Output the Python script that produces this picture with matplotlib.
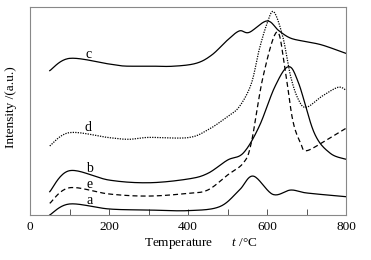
import numpy as np
import matplotlib
matplotlib.use("Agg")
from matplotlib import pyplot
from matplotlib.ticker import MultipleLocator, NullLocator

# values (temperature in deg C, intensity in arbitrary units)
temp_a = [50, 100, 200, 300, 400, 480, 530, 565, 615, 660, 700, 800]
int_a = [0.0, 5.3, 2.9, 2.4, 2.1, 4.0, 12.0, 18.7, 9.9, 12.0, 10.6, 8.8]

temp_e = [50, 100, 200, 300, 400, 450, 500, 540, 560, 590, 625, 645, 665, 685, 700, 750, 800]
int_e = [5.6, 13.1, 10.1, 9.1, 10.4, 12.0, 19.2, 25.0, 34.5, 66.5, 88.0, 71.0, 45.7, 34.6, 30.9, 36.0, 41.7]

temp_b = [50, 100, 200, 300, 400, 450, 500, 540, 580, 620, 654, 680, 720, 760, 800]
int_b = [11.2, 21.3, 16.8, 15.5, 17.3, 20.0, 26.4, 29.8, 42.5, 61.7, 71.3, 63.4, 39.3, 29.7, 26.8]

temp_d = [50, 100, 200, 250, 300, 400, 450, 500, 530, 560, 580, 600, 617, 640, 660, 680, 700, 740, 780, 800]
int_d = [33.2, 39.6, 37.2, 36.4, 37.3, 37.2, 40.9, 47.3, 52.1, 63.0, 79.3, 92.0, 97.7, 85.7, 66.5, 55.3, 51.8, 57.2, 61.4, 60.0]

temp_c = [50, 100, 200, 240, 300, 360, 420, 460, 500, 530, 555, 600, 630, 660, 700, 740, 800]
int_c = [69.4, 75.3, 72.6, 71.6, 71.6, 71.5, 72.9, 76.9, 84.1, 88.5, 87.8, 93.3, 88.6, 85.0, 83.3, 81.7, 77.7]

labels = ["a", "e", "b", "d", "c"]
label_pos = [(152, 7.0), (150, 14.6), (150, 22.3), (147, 42.0), (147, 77.4)]

xticks_major = [0, 200, 400, 600, 800]


def smooth(xs, ys, n=20):
	"""Catmull-Rom curve through the read points, only for drawing."""
	pts = np.column_stack([xs, ys]).astype(float)
	pts = np.vstack([pts[0], pts, pts[-1]])
	out = []
	for i in range(1, len(pts) - 2):
		p0, p1, p2, p3 = pts[i - 1], pts[i], pts[i + 1], pts[i + 2]
		t = np.linspace(0, 1, n, endpoint=False)[:, None]
		seg = 0.5 * ((2 * p1) + (-p0 + p2) * t + (2 * p0 - 5 * p1 + 4 * p2 - p3) * t ** 2
			+ (-p0 + 3 * p1 - 3 * p2 + p3) * t ** 3)
		out.append(seg)
	out.append(pts[-2][None, :])
	out = np.vstack(out)
	return out[:, 0], out[:, 1]


pyplot.rcParams["font.family"] = ["Liberation Serif", "DejaVu Serif"]
pyplot.rcParams["mathtext.fontset"] = "custom"
pyplot.rcParams["mathtext.it"] = "Liberation Serif:italic"
pyplot.rcParams["mathtext.rm"] = "Liberation Serif"

figure = pyplot.figure(figsize=(3.71, 2.60), dpi=100)
axis = figure.add_axes([30 / 371, 45 / 260, 316 / 371, 208 / 260])

series = [
	(temp_a, int_a, "-"),
	(temp_e, int_e, (0, (4, 2.5))),
	(temp_b, int_b, "-"),
	(temp_d, int_d, (0, (1.0, 1.0))),
	(temp_c, int_c, "-"),
]

for xs, ys, style in series:
	sx, sy = smooth(xs, ys)
	axis.plot(sx, sy, color="black", linestyle=style, linewidth=0.9)

for text, (tx, ty) in zip(labels, label_pos):
	axis.text(tx, ty, text, fontsize=10, ha="center", va="center")

axis.set_xlim(0, 800)
axis.set_ylim(0, 100)
axis.set_xticks(xticks_major)
axis.xaxis.set_minor_locator(MultipleLocator(100))
axis.yaxis.set_major_locator(NullLocator())
axis.tick_params(axis="x", which="both", direction="in", length=4, width=0.7,
	color="#555555", labelsize=9.5, pad=4)

for spine in axis.spines.values():
	spine.set_color("#888888")
	spine.set_linewidth(0.8)

axis.set_xlabel(r"Temperature      $t$ /$\mathrm{\degree}$C", fontsize=9.5)
axis.xaxis.set_label_coords(171 / 316, -21 / 208)
axis.set_ylabel("Intensity /(a.u.)", fontsize=9.5)
axis.yaxis.set_label_coords(-13 / 316, 0.52)

figure.savefig("out.png", dpi=100)
